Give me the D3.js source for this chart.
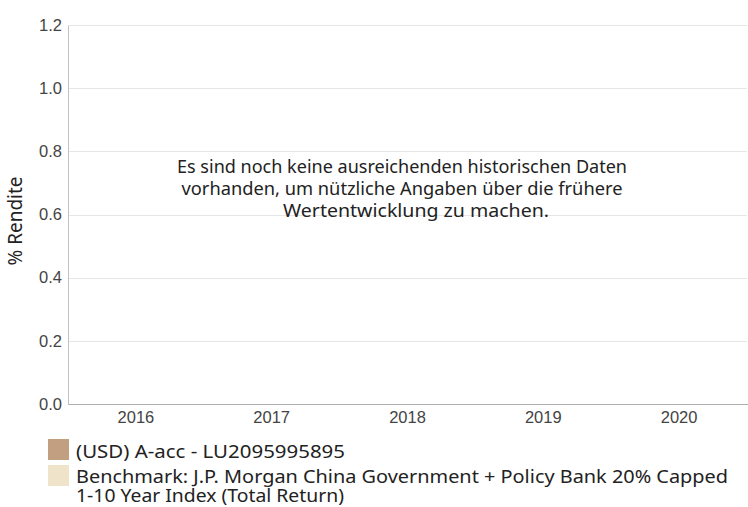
<!DOCTYPE html>
<html><head><meta charset="utf-8">
<script src="https://cdn.jsdelivr.net/npm/d3@7"></script>
<style>body{margin:0;background:#fff;}svg{display:block;}</style>
</head><body>
<svg id="chart" width="748" height="507"></svg>
<script>
const categories = ["2016","2017","2018","2019","2020"];
const fundValues = [null,null,null,null,null];
const benchmarkValues = [null,null,null,null,null];
const yTicks = [0,0.2,0.4,0.6,0.8,1.0,1.2];
const fundName = ["(USD) A-acc - LU2095995895"];
const benchmarkName = ["Benchmark: J.P. Morgan China Government + Policy Bank 20% Capped","1-10 Year Index (Total Return)"];
const seriesColors = ["#c29f81","#efe4c9"];
const messageLines = ["Es sind noch keine ausreichenden historischen Daten","vorhanden, um nützliche Angaben über die frühere","Wertentwicklung zu machen."];

const svg = d3.select("#chart");
const m = {left:68, right:747, top:25, bottom:404};
const x = d3.scaleBand().domain(categories).range([m.left,m.right]).paddingInner(0.2).paddingOuter(0.1);
const y = d3.scaleLinear().domain([0,1.2]).range([m.bottom,m.top]);
const sans = "'Noto Sans','Open Sans',sans-serif";
const arial = "Arial, 'Liberation Sans', sans-serif";

// gridlines
svg.append("g").selectAll("line").data(yTicks.filter(d=>d>0)).join("line")
  .attr("x1",m.left).attr("x2",m.right).attr("y1",d=>Math.round(y(d))+0.5).attr("y2",d=>Math.round(y(d))+0.5)
  .attr("stroke","#e6e6e6").attr("stroke-width",1);

// y axis
const ya = svg.append("g").attr("transform",`translate(${m.left},0)`)
  .call(d3.axisLeft(y).tickValues(yTicks).tickFormat(d3.format(".1f")).tickSize(0).tickPadding(6));
ya.select(".domain").attr("stroke","#c0c0c0").attr("shape-rendering","crispEdges");
ya.selectAll("text").attr("font-family",arial).attr("font-size",16.5).attr("fill","#444");

// x axis
const xa = svg.append("g").attr("transform",`translate(0,${m.bottom})`)
  .call(d3.axisBottom(x).tickSize(0).tickPadding(7));
xa.select(".domain").attr("stroke","#b0b0b0").attr("shape-rendering","crispEdges");
xa.selectAll("text").attr("font-family",arial).attr("font-size",16.5).attr("fill","#444")
  .attr("dy",null).attr("y",19);

// bars (no data available)
const x1 = d3.scaleBand().domain([0,1]).range([0,x.bandwidth()]);
[fundValues,benchmarkValues].forEach((vals,i)=>{
  svg.append("g").selectAll("rect").data(categories.map((c,j)=>({c,v:vals[j]})).filter(d=>d.v!=null)).join("rect")
    .attr("x",d=>x(d.c)+x1(i)).attr("width",x1.bandwidth())
    .attr("y",d=>y(Math.max(0,d.v))).attr("height",d=>Math.abs(y(d.v)-y(0)))
    .attr("fill",seriesColors[i]);
});

// y title
svg.append("text").attr("transform","translate(22,221) rotate(-90)").attr("text-anchor","middle")
  .attr("font-family",sans).attr("font-size",19).attr("fill","#222").text("% Rendite");

// message
const msgW = [450,441,266];
const msgC = [402,402,416];
const msg = svg.append("text").attr("text-anchor","middle").attr("font-family",sans)
  .attr("font-size",18).attr("fill","#222");
messageLines.forEach((l,i)=>msg.append("tspan").attr("x",msgC[i]).attr("y",173+i*22)
  .attr("textLength",msgW[i]).attr("lengthAdjust","spacingAndGlyphs").text(l));

// legend
const legend = [
  {lines:fundName, ys:[458], ws:[269], color:seriesColors[0], ry:439},
  {lines:benchmarkName, ys:[483,502], ws:[652,268], color:seriesColors[1], ry:465}
];
legend.forEach(it=>{
  svg.append("rect").attr("x",48).attr("y",it.ry).attr("width",21).attr("height",21).attr("fill",it.color);
  const t = svg.append("text").attr("font-family",sans).attr("font-size",18.5).attr("fill","#222");
  it.lines.forEach((l,i)=>t.append("tspan").attr("x",76).attr("y",it.ys[i])
    .attr("textLength",it.ws[i]).attr("lengthAdjust","spacingAndGlyphs").text(l));
});
</script>
</body></html>
